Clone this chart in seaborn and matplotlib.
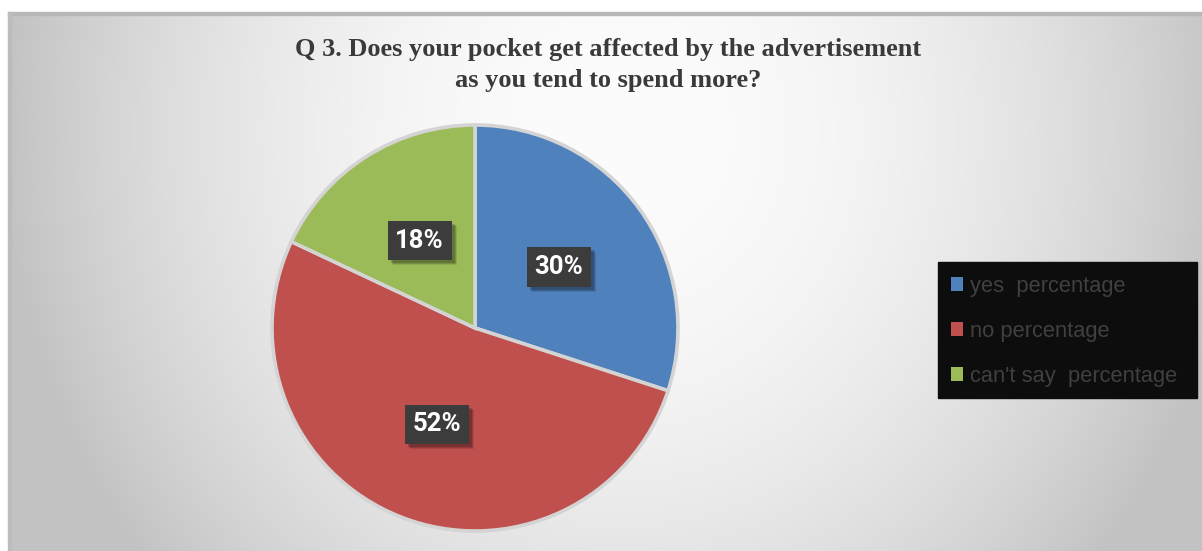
import numpy as np
import matplotlib
matplotlib.use("Agg")
import matplotlib.pyplot as plt
from matplotlib.patches import Rectangle
import seaborn as sns

# Survey answers
categories = ["yes  percentage", "no percentage", "can't say  percentage"]
shares = [30, 52, 18]
slice_colors = ["#4f81bd", "#c0504d", "#9bbb59"]
title = "Q 3. Does your pocket get affected by the advertisement\nas you tend to spend more?"

sns.set_theme(style="white")
plt.rcParams["font.family"] = ["DejaVu Sans"]

W, H, DPI = 1202, 551, 100
fig = plt.figure(figsize=(W / DPI, H / DPI), dpi=DPI, facecolor="white")

# Chart area background: soft grey gradient, bright near the top centre
bg = fig.add_axes([8 / W, 0, (W - 8) / W, (H - 12) / H])
bg.set_axis_off()
bg.set_zorder(0)
yy, xx = np.mgrid[12:H, 8:W]
d = np.sqrt(((xx - 620) / 620.0) ** 2 + ((yy - 130) / 680.0) ** 2)
t = np.clip(d, 0, 1) ** 2
shade = (252 - 58 * t) / 255.0
img = np.dstack([shade, shade, shade])
bg.imshow(img, aspect="auto", interpolation="bilinear", extent=[0, 1, 0, 1])
# thin darker edge on top and left
fig.patches.append(Rectangle((8 / W, (H - 15) / H), (W - 8) / W, 3 / H,
                             transform=fig.transFigure, color="#b8b8b8", zorder=1))
fig.patches.append(Rectangle((8 / W, 0), 3 / W, (H - 12) / H,
                             transform=fig.transFigure, color="#bcbcbc", zorder=1))

# Title
fig.text(608 / W, 1 - 65 / H, title, ha="center", va="center",
         family=["Liberation Serif"], fontweight="bold", fontsize=19,
         color="#3a3a3a", linespacing=1.4)

# Pie
cx, cy, r = 475, 328, 203
lim = 1.01
ax = fig.add_axes([(cx - r * lim) / W, (H - cy - r * lim) / H, 2 * r * lim / W, 2 * r * lim / H])
ax.set_axis_off()
ax.set_zorder(1)
wedges, texts, autotexts = ax.pie(
    shares, colors=slice_colors, startangle=90, counterclock=False,
    radius=1.0, autopct="%1.0f%%", pctdistance=0.51,
    wedgeprops=dict(edgecolor="#d4d4d4", linewidth=2.6),
)
ax.set_xlim(-lim, lim)
ax.set_ylim(-lim, lim)
ax.set_aspect("equal")

for at in autotexts:
    at.set_family(["Roboto", "DejaVu Sans"])
    at.set_fontweight("bold")
    at.set_fontsize(18.5)
    at.set_color("white")
    at.set_bbox(dict(boxstyle="square,pad=0.3", facecolor="#3c3c3c", edgecolor="none"))
    at.set_zorder(5)

# Legend on a black panel
lx0, ly0, lx1, ly1 = 938, 262, 1197, 398
fig.patches.append(Rectangle((lx0 / W, 1 - ly1 / H), (lx1 - lx0) / W, (ly1 - ly0) / H,
                             transform=fig.transFigure, color="#0d0d0d", zorder=2))

leg_family = ["Liberation Sans"]


def make_legend(size, spacing, anchor):
    lg = fig.legend(wedges, categories, loc="upper left", bbox_to_anchor=anchor,
                    frameon=False, prop=dict(family=leg_family, size=size),
                    labelcolor="#404040", handlelength=12 * 72 / DPI / size,
                    handleheight=12 * 72 / DPI / size, handletextpad=7 * 72 / DPI / size,
                    labelspacing=spacing, borderpad=0.0, borderaxespad=0.0)
    lg.set_zorder(3)
    for h in lg.legend_handles:
        h.set_edgecolor("none")
        h.set_linewidth(0)
    return lg


# fit the legend text width and row pitch to the panel
size, spacing, anchor = 16.0, 0.8, (951 / W, 1 - 270 / H)
leg = make_legend(size, spacing, anchor)
for _ in range(3):
    fig.canvas.draw()
    rend = fig.canvas.get_renderer()
    widest = leg.get_texts()[2].get_window_extent(rend).width
    size = size * 207.0 / widest
    tex = [t_.get_window_extent(rend) for t_ in leg.get_texts()]
    pitch = (tex[0].y0 - tex[2].y0) / 2.0
    spacing = spacing + (45.0 - pitch) / (size * DPI / 72)
    leg.remove()
    leg = make_legend(size, spacing, anchor)

fig.canvas.draw()
rend = fig.canvas.get_renderer()
hb = leg.legend_handles[0].get_window_extent(rend)
dx = 951 - hb.x0
dy = (H - 284) - (hb.y0 + hb.y1) / 2.0
anchor = (anchor[0] + dx / W, anchor[1] + dy / H)
leg.remove()
leg = make_legend(size, spacing, anchor)

# soft drop shadows under the percentage boxes (above the pie, below the labels)
fig.canvas.draw()
rend = fig.canvas.get_renderer()
inv = ax.transData.inverted()
for at in autotexts:
    bb = at.get_bbox_patch().get_window_extent(rend)
    for ox, oy, a in [(5, -5, 0.10), (4, -4, 0.14), (3, -3, 0.18)]:
        (x0, y0), (x1, y1) = inv.transform([(bb.x0 + ox, bb.y0 + oy), (bb.x1 + ox, bb.y1 + oy)])
        ax.add_patch(Rectangle((x0, y0), x1 - x0, y1 - y0, facecolor=(0, 0, 0, a),
                               edgecolor="none", zorder=4))

fig.savefig("out.png", dpi=DPI, facecolor="white")
